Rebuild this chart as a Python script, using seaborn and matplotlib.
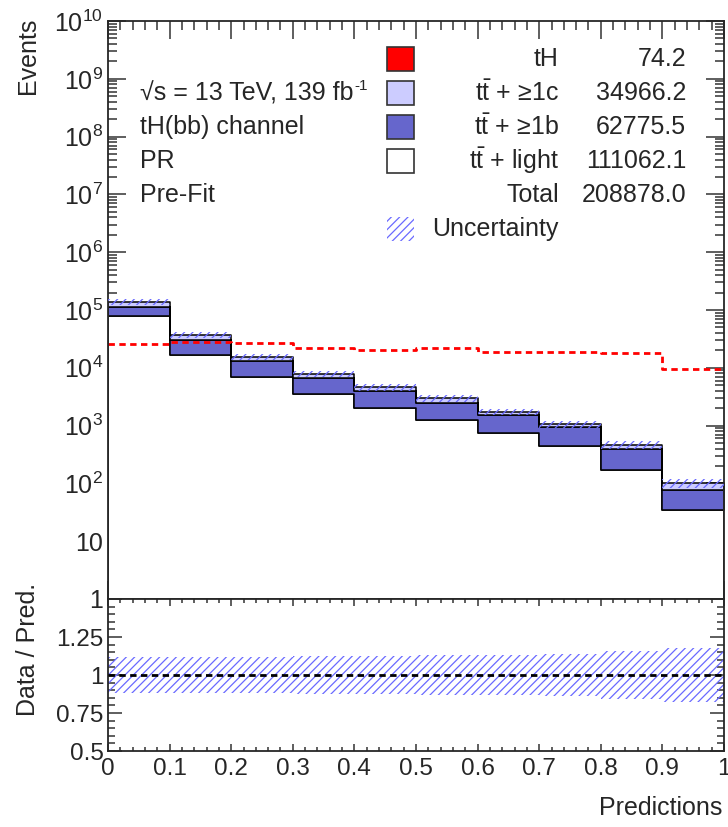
import numpy as np
import pandas as pd
import matplotlib
matplotlib.use("Agg")
import matplotlib.pyplot as plt
import seaborn as sns
from matplotlib.ticker import FixedLocator, FixedFormatter, MultipleLocator, LogLocator, NullFormatter
from matplotlib.patches import Rectangle

# ---------------- data ----------------
bin_edges = [0.0, 0.1, 0.2, 0.3, 0.4, 0.5, 0.6, 0.7, 0.8, 0.9, 1.0]
tt_light = [79000, 16900, 6940, 3570, 2010, 1250, 753, 443, 171, 34]
tt_1b = [35400, 13400, 6160, 3100, 1910, 1240, 767, 492, 218, 43]
tt_1c = [23500, 6600, 2100, 1240, 680, 470, 220, 115, 72, 23]
tH_overlay = [25500, 28300, 26500, 21700, 20100, 21700, 19000, 19000, 17800, 9530]
rel_unc = [0.12, 0.12, 0.12, 0.122, 0.127, 0.13, 0.13, 0.14, 0.155, 0.175]

legend_names = ["tH", r"t$\mathregular{\bar{t}}$ + ≥1c", r"t$\mathregular{\bar{t}}$ + ≥1b",
                r"t$\mathregular{\bar{t}}$ + light", "Total"]
legend_yields = ["74.2", "34966.2", "62775.5", "111062.1", "208878.0"]
legend_colors = ["#ff0000", "#ccccff", "#6666cc", "#ffffff"]
info_lines = ["√s = 13 TeV, 139 fb", "tH(bb) channel", "PR", "Pre-Fit"]
lumi_sup = "-1"
y_major_labels = ["1", "10"] + [r"$\mathregular{10^{%d}}$" % k for k in range(2, 11)]
x_tick_labels = ["0", "0.1", "0.2", "0.3", "0.4", "0.5", "0.6", "0.7", "0.8", "0.9", "1"]
ratio_ticks = [0.5, 0.75, 1.0, 1.25, 1.5]
ratio_labels = ["0.5", "0.75", "1", "1.25", ""]

# ---------------- style ----------------
sns.set_theme(style="ticks")
plt.rcParams["font.family"] = ["Liberation Sans", "DejaVu Sans"]
plt.rcParams["mathtext.fontset"] = "custom"
plt.rcParams["mathtext.rm"] = "Liberation Sans"
plt.rcParams["mathtext.it"] = "Liberation Sans:italic"
plt.rcParams["mathtext.bf"] = "Liberation Sans:bold"
plt.rcParams["hatch.linewidth"] = 0.9
plt.rcParams["axes.linewidth"] = 1.3

FS = 18
TFS = 17.5
HATCH_COL = "#6a6aff"

W, H = 728, 827
fig = plt.figure(figsize=(W / 100, H / 100), dpi=100)

def fx(x):
    return x / W

def fy(y):
    return 1 - y / H

ax = fig.add_axes([fx(108), fy(599), fx(724) - fx(108), fy(21) - fy(599)])
axr = fig.add_axes([fx(108), fy(751), fx(724) - fx(108), fy(599) - fy(751)])

edges = np.array(bin_edges)
centers = 0.5 * (edges[:-1] + edges[1:])
nb = len(centers)

df = pd.DataFrame({
    "x": np.concatenate([centers, centers, centers]),
    "w": tt_light + tt_1b + tt_1c,
    "proc": ["light"] * nb + ["b"] * nb + ["c"] * nb,
})
ax.set_yscale("log")
sns.histplot(data=df, x="x", weights="w", hue="proc", hue_order=["c", "b", "light"],
             multiple="stack", bins=bin_edges, element="step", fill=True,
             palette={"c": "#ccccff", "b": "#6666cc", "light": "#ffffff"},
             edgecolor="black", linewidth=1.1, alpha=1, legend=False, ax=ax)

# signal overlay
sns.histplot(x=centers, weights=tH_overlay, bins=bin_edges, element="step", fill=False,
             color="#ff0000", linestyle=(0, (2.3, 1.6)), linewidth=2.0, ax=ax)

# uncertainty band
total = np.array(tt_light) + np.array(tt_1b) + np.array(tt_1c)
unc = np.array(rel_unc)
lo = np.append(total * (1 - unc), total[-1] * (1 - unc[-1]))
hi = np.append(total * (1 + unc), total[-1] * (1 + unc[-1]))
ax.fill_between(edges, lo, hi, step="post", facecolor="none", edgecolor=HATCH_COL,
                hatch="////", linewidth=0, zorder=5)

ax.set_xlim(0, 1)
ax.set_ylim(1, 1e10)
ax.set_xlabel("")
ax.set_ylabel("")
ax.yaxis.set_major_locator(FixedLocator([10.0 ** k for k in range(0, 11)]))
ax.yaxis.set_major_formatter(FixedFormatter(y_major_labels))
ax.yaxis.set_minor_locator(LogLocator(base=10, subs=np.arange(2, 10), numticks=100))
ax.yaxis.set_minor_formatter(NullFormatter())
ax.xaxis.set_major_locator(MultipleLocator(0.1))
ax.xaxis.set_minor_locator(MultipleLocator(0.02))
ax.tick_params(axis="both", which="both", direction="in", top=True, right=True, color="#333333")
ax.tick_params(axis="x", which="major", length=13, width=1.1, labelbottom=False)
ax.tick_params(axis="x", which="minor", length=6.5, width=1.1)
ax.tick_params(axis="y", which="major", length=13, width=1.1, labelsize=TFS + 0.5, pad=3.5)
ax.tick_params(axis="y", which="minor", length=6.5, width=1.1)

# ratio panel
rlo = np.append(1 - unc, 1 - unc[-1])
rhi = np.append(1 + unc, 1 + unc[-1])
axr.fill_between(edges, rlo, rhi, step="post", facecolor="none", edgecolor=HATCH_COL,
                 hatch="////", linewidth=0, zorder=2)
axr.axhline(1.0, color="black", linestyle=(0, (2.3, 1.6)), linewidth=2.0, zorder=3)
axr.set_xlim(0, 1)
axr.set_ylim(0.5, 1.5)
axr.yaxis.set_major_locator(FixedLocator(ratio_ticks))
axr.yaxis.set_major_formatter(FixedFormatter(ratio_labels))
axr.yaxis.set_minor_locator(MultipleLocator(0.05))
axr.xaxis.set_major_locator(FixedLocator(edges))
axr.xaxis.set_major_formatter(FixedFormatter(x_tick_labels))
axr.xaxis.set_minor_locator(MultipleLocator(0.02))
axr.tick_params(axis="both", which="both", direction="in", top=True, right=True, color="#333333")
axr.tick_params(axis="x", which="major", length=5, width=1.1, labelsize=TFS, pad=5)
axr.tick_params(axis="x", which="minor", length=3, width=1.1)
axr.tick_params(axis="y", which="major", length=10, width=1.1, labelsize=TFS, pad=3)
axr.tick_params(axis="y", which="minor", length=5, width=1.1)
axr.set_xlabel("")
axr.set_ylabel("")

# axis titles
fig.text(fx(28), fy(18), "Events", rotation=90, ha="center", va="top", fontsize=FS)
fig.text(fx(28), fy(649), "Data / Pred.", rotation=90, ha="center", va="center", fontsize=FS)
fig.text(fx(722), fy(808), "Predictions", ha="right", va="center", fontsize=FS)

# info text
info_artists = []
for i, t in enumerate(info_lines):
    info_artists.append(fig.text(fx(140), fy(93 + 34 * i), t, ha="left", va="center", fontsize=FS))
fig.canvas.draw()
bb = info_artists[0].get_window_extent(fig.canvas.get_renderer())
fig.text(bb.x1 / W + fx(0.5), fy(86), lumi_sup, ha="left", va="center", fontsize=11)

# legend
rows = [59, 93, 127, 161, 195, 229]
for i, col in enumerate(legend_colors):
    r = Rectangle((fx(387), fy(rows[i] + 12)), fx(414) - fx(387), fy(rows[i] - 12) - fy(rows[i] + 12),
                  transform=fig.transFigure, facecolor=col, edgecolor="#333333", linewidth=1.2)
    fig.patches.append(r)
for i in range(len(legend_names)):
    fig.text(fx(559), fy(rows[i]), legend_names[i], ha="right", va="center", fontsize=FS)
    fig.text(fx(686), fy(rows[i]), legend_yields[i], ha="right", va="center", fontsize=FS)
ru = Rectangle((fx(387), fy(rows[5] + 12)), fx(414) - fx(387), fy(rows[5] - 12) - fy(rows[5] + 12),
               transform=fig.transFigure, facecolor="none", edgecolor=HATCH_COL, hatch="////", linewidth=0)
fig.patches.append(ru)
fig.text(fx(432), fy(rows[5]), "Uncertainty", ha="left", va="center", fontsize=FS)

fig.savefig("out.png", dpi=100)
